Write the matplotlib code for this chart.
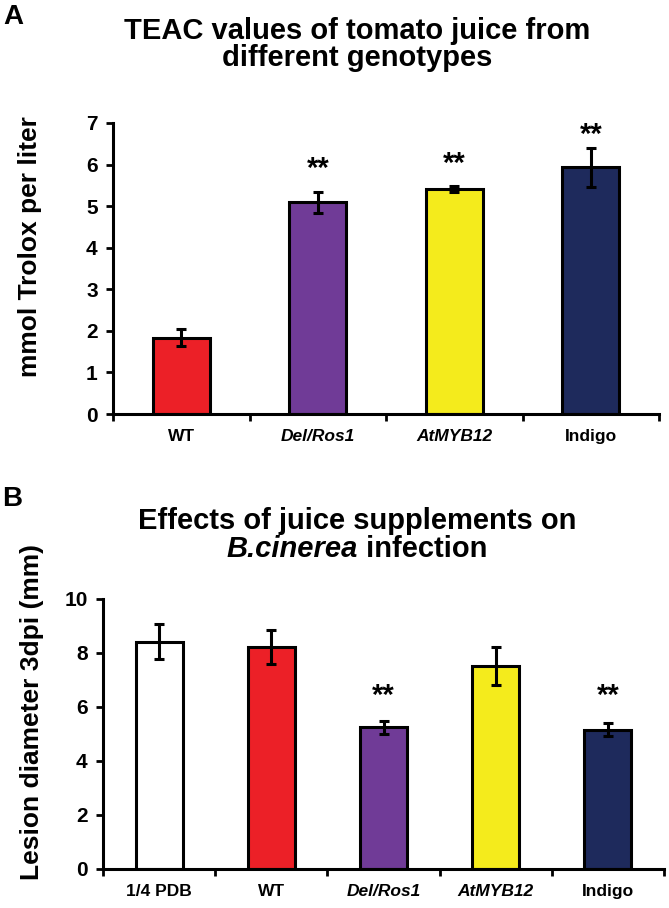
import matplotlib
matplotlib.use("Agg")
import matplotlib.pyplot as plt
from matplotlib.ticker import FixedLocator

plt.rcParams['font.family'] = ['Liberation Sans', 'DejaVu Sans']
plt.rcParams['font.weight'] = 'bold'

# ---- Panel A data ----
a_categories = ["WT", "Del/Ros1", "AtMYB12", "Indigo"]
a_italic = [False, True, True, False]
a_values = [1.84, 5.09, 5.41, 5.93]
a_errors = [0.20, 0.25, 0.07, 0.48]
a_sig = ["", "**", "**", "**"]
a_sig_y = [0, 6.06, 6.18, 6.88]

# ---- Panel B data ----
b_categories = ["1/4 PDB", "WT", "Del/Ros1", "AtMYB12", "Indigo"]
b_italic = [False, False, True, True, False]
b_values = [8.42, 8.23, 5.25, 7.53, 5.16]
b_errors = [0.66, 0.63, 0.24, 0.70, 0.23]
b_sig = ["", "", "**", "", "**"]
b_sig_y = [0, 0, 6.67, 0, 6.67]

RED = "#EC2027"
PURPLE = "#703B97"
YELLOW = "#F4EB1C"
NAVY = "#1E2A5C"
a_colors = [RED, PURPLE, YELLOW, NAVY]
b_colors = ["white", RED, PURPLE, YELLOW, NAVY]

W, H = 669, 908
fig = plt.figure(figsize=(W/100, H/100), dpi=100)

axA = fig.add_axes([113/W, 1-414/H, 546/W, 291/H])
axB = fig.add_axes([103/W, 1-869/H, 561/W, 270/H])


def draw(ax, cats, italic, vals, errs, colors, sig, sig_y, ymax, yticks):
    x = list(range(len(cats)))
    ax.bar(x, vals, width=0.42, color=colors, edgecolor="black",
           linewidth=2.2, zorder=2)
    ax.errorbar(x, vals, yerr=errs, fmt="none", ecolor="black",
                elinewidth=2.2, capsize=3.5, capthick=2.2, zorder=3)
    for xi, s, sy in zip(x, sig, sig_y):
        if s:
            ax.annotate(s, (xi, sy), xytext=(0, -11), textcoords="offset points",
                        ha="center", va="baseline", fontsize=21,
                        fontweight="bold")
    ax.set_xlim(-0.5, len(cats) - 0.5)
    ax.set_ylim(0, ymax)
    for sp in ["top", "right"]:
        ax.spines[sp].set_visible(False)
    for sp in ["left", "bottom"]:
        ax.spines[sp].set_linewidth(2.2)
    ax.set_yticks(yticks)
    ax.set_yticklabels([str(t) for t in yticks], fontsize=15,
                       fontweight="bold")
    ax.tick_params(axis="y", direction="out", length=5, width=2, pad=6)
    # boundary ticks (major) and category labels (minor)
    ax.xaxis.set_major_locator(FixedLocator([i - 0.5 for i in range(len(cats) + 1)]))
    ax.xaxis.set_minor_locator(FixedLocator(x))
    ax.set_xticklabels([])
    ax.set_xticklabels(cats, minor=True)
    ax.tick_params(axis="x", which="major", direction="out", length=5, width=2)
    ax.tick_params(axis="x", which="minor", length=0, pad=11, labelsize=12.5)
    for lab, it in zip(ax.get_xticklabels(minor=True), italic):
        lab.set_fontweight("bold")
        if it:
            lab.set_fontstyle("italic")


draw(axA, a_categories, a_italic, a_values, a_errors, a_colors, a_sig, a_sig_y,
     7, [0, 1, 2, 3, 4, 5, 6, 7])
draw(axB, b_categories, b_italic, b_values, b_errors, b_colors, b_sig, b_sig_y,
     10, [0, 2, 4, 6, 8, 10])

# Panel letters
fig.text(3/W, 1-17/H, "A", fontsize=20, fontweight="bold", va="center", ha="left")
fig.text(2/W, 1-499/H, "B", fontsize=20, fontweight="bold", va="center", ha="left")

# Titles
TFS = 21
fig.text(357/W, 1-31/H, "TEAC values of tomato juice from", fontsize=TFS,
         fontweight="bold", ha="center", va="center")
fig.text(357/W, 1-58/H, "different genotypes", fontsize=TFS,
         fontweight="bold", ha="center", va="center")
fig.text(357/W, 1-521/H, "Effects of juice supplements on", fontsize=TFS,
         fontweight="bold", ha="center", va="center")

# second line of title B: italic species name + regular word, centred together
t1 = fig.text(0, 1-549/H, "B.cinerea", fontsize=TFS, fontweight="bold",
              fontstyle="italic", ha="left", va="center")
t2 = fig.text(0, 1-549/H, " infection", fontsize=TFS, fontweight="bold",
              ha="left", va="center")
fig.canvas.draw()
r = fig.canvas.get_renderer()
w1 = t1.get_window_extent(r).width
w2 = t2.get_window_extent(r).width
x0 = 357 - (w1 + w2) / 2
t1.set_x(x0 / W)
t2.set_x((x0 + w1) / W)

# Y labels
fig.text(30/W, 1-247/H, "mmol Trolox per liter", fontsize=19,
         fontweight="bold", rotation=90, ha="center", va="center")
fig.text(32/W, 1-712/H, "Lesion diameter 3dpi (mm)", fontsize=19,
         fontweight="bold", rotation=90, ha="center", va="center")

fig.savefig("out.png", dpi=100)
